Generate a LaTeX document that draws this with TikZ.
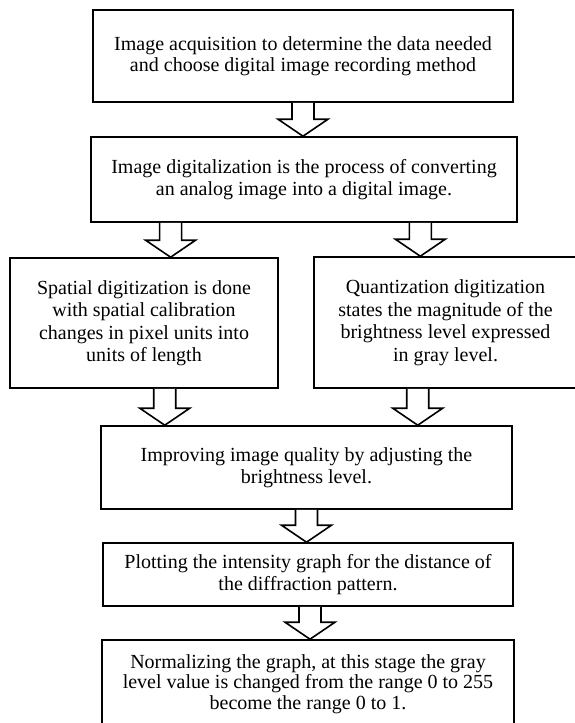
\documentclass[tikz,border=0pt]{standalone}
\usepackage{fontspec}
\setmainfont{Liberation Serif}
\usepackage{tikz}
\usetikzlibrary{calc}
\newcommand{\shaftw}{11pt}
\newcommand{\headw}{25pt}
\newcommand{\headlen}{17pt}
% hollow block arrow: x taken from the first point, tip on the second
\newcommand{\blockarrow}[2]{%
\draw[hollow] let \p1 = #1, \p2 = #2 in
(\x1-\shaftw,\y1) -- (\x1-\shaftw,\y2+\headlen) -- (\x1-\headw,\y2+\headlen) -- (\x1,\y2)
-- (\x1+\headw,\y2+\headlen) -- (\x1+\shaftw,\y2+\headlen) -- (\x1+\shaftw,\y1);
}
\tikzset{
box/.style={draw, line width=1.6pt, align=center, inner sep=0pt,
  font=\fontsize{20}{22.5}\selectfont},
tight/.style={font=\fontsize{20}{20.5}\selectfont},
hollow/.style={line width=1.6pt, fill=white, line join=miter}
}

\begin{document}
\begin{tikzpicture}[x=1pt, y=-1pt]
\useasboundingbox (0,0) rectangle (575,723);
\node[box, tight, minimum width=420pt, minimum height=92pt] (acq) at (303,56)
  {Image acquisition to determine the data needed\\and choose digital image recording method};
\node[box, minimum width=426pt, minimum height=85pt] (dig) at (304,179.5)
  {Image digitalization is the process of converting\\an analog image into a digital image.};
\node[box, minimum width=268pt, minimum height=130pt] (spat) at (144,323)
  {Spatial digitization is done\\with spatial calibration\\changes in pixel units into\\units of length};
\node[box, minimum width=263pt, minimum height=131pt] (quant) at (445.5,322.5)
  {Quantization digitization\\states the magnitude of the\\brightness level expressed\\in gray level.};
\node[box, minimum width=411pt, minimum height=83pt] (impr) at (306.5,467.5)
  {Improving image quality by adjusting the\\brightness level.};
\node[box, minimum width=410pt, minimum height=63pt] (plot) at (308,574.5)
  {Plotting the intensity graph for the distance of\\the diffraction pattern.};
\node[box, tight, minimum width=412pt, minimum height=88pt] (norm) at (308,684)
  {Normalizing the graph, at this stage the gray\\level value is changed from the range 0 to 255\\become the range 0 to 1.};
%arrows
\blockarrow{(acq.south)}{(dig.north)}
\blockarrow{($(dig.south west)!0.188!(dig.south east)$)}{(spat.north)}
\blockarrow{($(dig.south west)!0.772!(dig.south east)$)}{(quant.north)}
\blockarrow{($(spat.south west)!0.577!(spat.south east)$)}{(impr.north)}
\blockarrow{($(quant.south west)!0.395!(quant.south east)$)}{(impr.north)}
\blockarrow{(impr.south)}{(plot.north)}
\blockarrow{($(plot.south)+(2,0)$)}{(norm.north)}
\end{tikzpicture}
\end{document}
